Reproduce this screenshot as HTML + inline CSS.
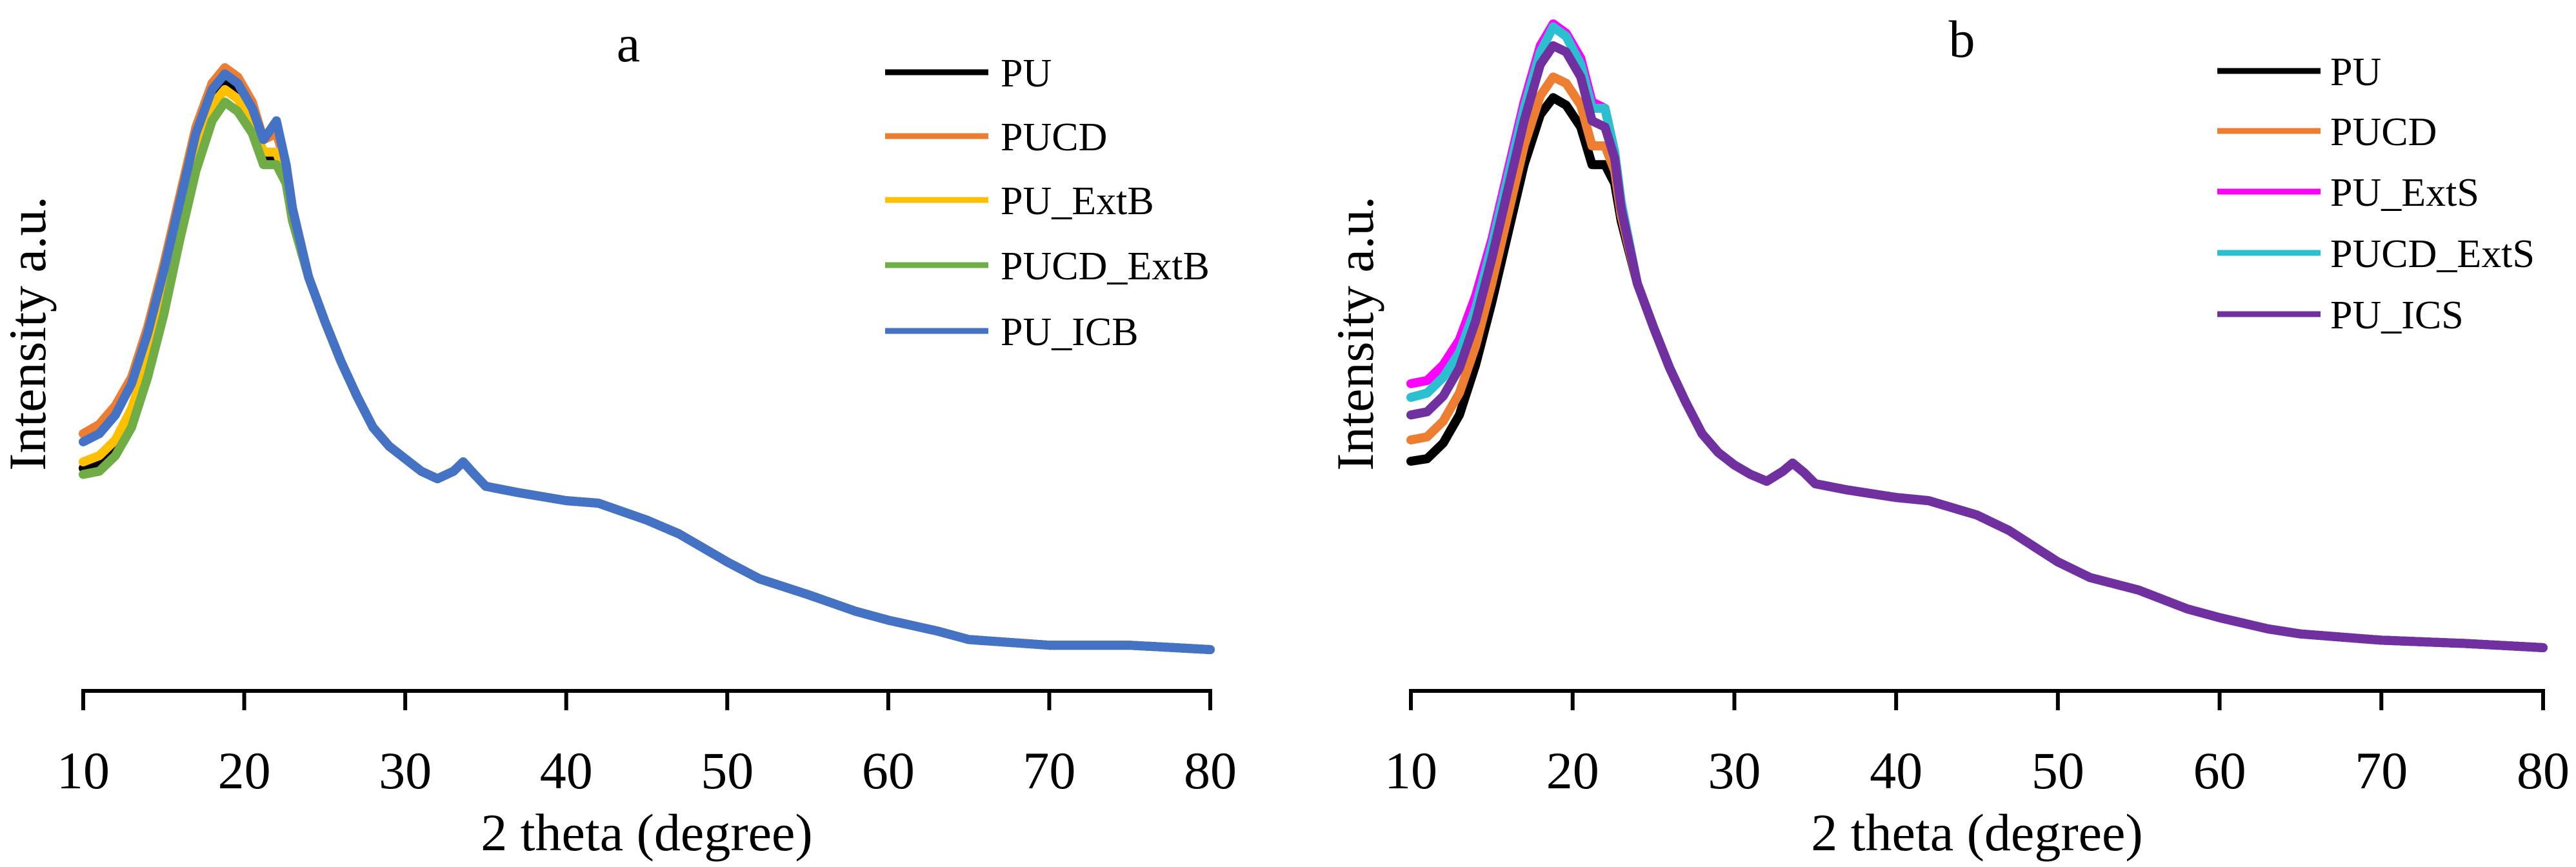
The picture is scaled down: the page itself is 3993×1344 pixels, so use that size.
<!DOCTYPE html>
<html><head><meta charset="utf-8"><style>
html,body{margin:0;padding:0;background:#fff;}
svg{display:block;font-family:"Liberation Serif",serif;}
</style></head><body>
<svg id="chart" width="3993" height="1344" viewBox="0 0 3993 1344" xmlns="http://www.w3.org/2000/svg"></svg>
<script>
const xs=[10,11,12,13,14,15,16,17,18,18.8,19.6,20.5,21.2,22,22.6,23,24,25,26,27,28,29,30,31,32,33,33.6,34.3,35,37,40,42,45,47,50,52,55,58,60,63,65,70,75,80];
const tailA=[66,59,52.6,47,42,39,37,35,33.8,35,36.5,34.5,32.6,31.6,30.3,29.9,27.2,25,20.5,17.8,15.3,12.6,11.2,9.5,8.1,7.2,7.2,6.5];
const tailB=[65,58,51.5,46,41,38,36,34.5,33.4,35,36.3,34.8,33,32,30.8,30.3,28,25.5,20.5,18,16,13,11.6,9.8,9,8,7.5,6.8];
const aPU=[35.5,36.5,39,44,52,63,75,86,94,97,96,92,85,85,82,76];
const aPUCD=[41,42.5,45.5,50,58,68,79,90,97,99.5,98,94,88,89,84,77];
const aExtB=[36.5,37.5,40,45,53,63,75,86,93.5,96,94.5,91,86,86,82,76];
const aPUCDExtB=[34.5,35,37.5,42,50,60,72,83,91,94,92.5,89,84,84,81,75];
const aICB=[39.7,41,44,49,57,67,78,89,96,98.5,97,93,88,91,84,77];
const bPU=[36.6,37,39.5,44,52,62,73,84,92,94.7,93.5,90,84,84,81,75];
const bPUCD=[40,40.5,43,47.5,55,65,76,87,95,98,97,93.5,87,87,83,76];
const bExtS=[49,49.5,52,56,63,72,83,94,103,106.5,105,101,94,93,86,78];
const bPUCDExtS=[46.8,47.5,50,54,61,71,82,93,102,106,104.5,100,93,93,86,78];
const bICS=[44,44.5,47,51.5,59,69,80,91,100,103,102,98,91,90,85,77];
const xTicks=[10,20,30,40,50,60,70,80];

const NS="http://www.w3.org/2000/svg";
const svg=document.getElementById('chart');
function mk(tag,attrs,parent){const e=document.createElementNS(NS,tag);for(const k in attrs)e.setAttribute(k,attrs[k]);(parent||svg).appendChild(e);return e;}

const panels=[
 {id:'a',x0:129,x1:1876,title:'a',tx:974,ty:95,ylx:70,lgLine:[1372,1532],lgText:1551,lgY:[112,211,310,411,513],
  series:[['PU',aPU,tailA,'#000000'],['PUCD',aPUCD,tailA,'#ED7D31'],['PU_ExtB',aExtB,tailA,'#FFC000'],['PUCD_ExtB',aPUCDExtB,tailA,'#70AD47'],['PU_ICB',aICB,tailA,'#4472C4']]},
 {id:'b',x0:2187,x1:3942,title:'b',tx:3041,ty:88,ylx:2128,lgLine:[3437,3597],lgText:3612,lgY:[110,203,297,392,487],
  series:[['PU',bPU,tailB,'#000000'],['PUCD',bPUCD,tailB,'#ED7D31'],['PU_ExtS',bExtS,tailB,'#FF00FF'],['PUCD_ExtS',bPUCDExtS,tailB,'#2BBFD0'],['PU_ICS',bICS,tailB,'#7030A0']]}
];
const axisY=1071;
function yS(v){return 1070-v*9.7;}

panels.forEach(p=>{
  const g=mk('g',{});
  
  
  const xS=v=>p.x0+(v-10)/70*(p.x1-p.x0);
  p.series.forEach(s=>{
    const vals=s[1].concat(s[2]);
    const d=xs.map((x,i)=>(i?'L':'M')+xS(x).toFixed(1)+','+yS(vals[i]).toFixed(1)).join(' ');
    const path=mk('path',{d:d,fill:'none',stroke:s[3],'stroke-width':14,'stroke-linejoin':'round','stroke-linecap':'round'},g);
    
    
  });
  const ax=mk('line',{x1:p.x0,x2:p.x1,y1:axisY,y2:axisY,stroke:'#000','stroke-width':6},g);
  
  
  xTicks.forEach(t=>{
    const tk=mk('line',{x1:xS(t),x2:xS(t),y1:axisY-3,y2:axisY+30,stroke:'#000','stroke-width':6},g);
    
    
    const tl=mk('text',{x:xS(t),y:1222,'font-size':82,'text-anchor':'middle'},g);
    tl.textContent=t;
    
    
  });
  const xt=mk('text',{x:(p.x0+p.x1)/2,y:1318,'font-size':82,'text-anchor':'middle'},g);
  xt.textContent='2 theta (degree)';
  
  
  const yt=mk('text',{x:0,y:0,'font-size':82,'text-anchor':'middle',transform:'translate('+p.ylx+',517) rotate(-90)'},g);
  yt.textContent='Intensity a.u.';
  
  
  const tt=mk('text',{x:p.tx,y:p.ty,'font-size':82,'text-anchor':'middle'},g);
  tt.textContent=p.title;
  
  
  p.series.forEach((s,i)=>{
    const lg=mk('g',{},g);
    
    
    mk('line',{x1:p.lgLine[0],x2:p.lgLine[1],y1:p.lgY[i],y2:p.lgY[i],stroke:s[3],'stroke-width':9},lg);
    const lt=mk('text',{x:p.lgText,y:p.lgY[i]+22,'font-size':62},lg);
    lt.textContent=s[0];
  });
});
</script>
</body></html>
